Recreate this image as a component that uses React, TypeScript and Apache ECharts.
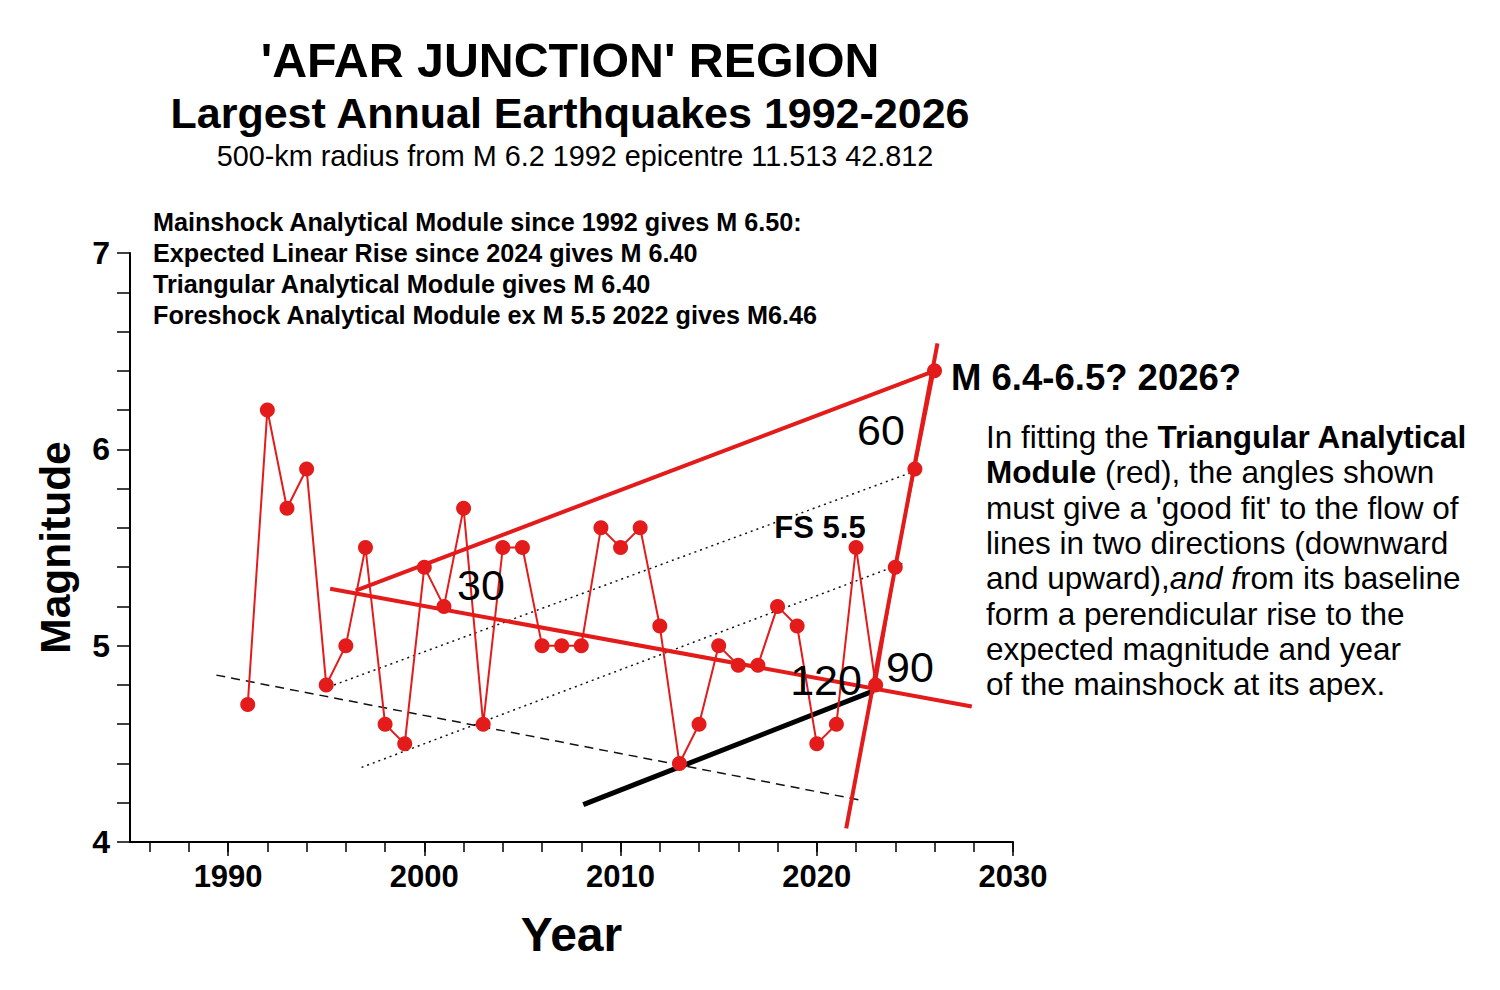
import React, { useEffect, useRef } from "react";
import * as echarts from "echarts";

const years = [1991, 1992, 1993, 1994, 1995, 1996, 1997, 1998, 1999, 2000, 2001, 2002, 2003, 2004, 2005, 2006, 2007, 2008, 2009, 2010, 2011, 2012, 2013, 2014, 2015, 2016, 2017, 2018, 2019, 2020, 2021, 2022, 2023, 2024, 2025, 2026];
const magnitudes = [4.7, 6.2, 5.7, 5.9, 4.8, 5.0, 5.5, 4.6, 4.5, 5.4, 5.2, 5.7, 4.6, 5.5, 5.5, 5.0, 5.0, 5.0, 5.6, 5.5, 5.6, 5.1, 4.4, 4.6, 5.0, 4.9, 4.9, 5.2, 5.1, 4.5, 4.6, 5.5, 4.8, 5.4, 5.9, 6.4];

// Triangular Analytical Module lines (red)
const upperLine = [[1996.5, 5.28], [2026.0, 6.4]];
const baseLine = [[1995.2, 5.29], [2027.9, 4.69]];
const riseLine = [[2021.5, 4.07], [2026.15, 6.54]];
// black lines
const linearRise = [[2008.1, 4.19], [2022.9, 4.77]];
const dashedLine = [[1989.4, 4.85], [2022.4, 4.21]];
const dottedLine1 = [[1995.4, 4.8], [2025.3, 5.9]];
const dottedLine2 = [[1996.8, 4.38], [2024.4, 5.42]];

const xMajorTicks = [1990, 2000, 2010, 2020, 2030];
const xMinorTicks = [1986, 1988, 1990, 1992, 1994, 1996, 1998, 2000, 2002, 2004, 2006, 2008, 2010, 2012, 2014, 2016, 2018, 2020, 2022, 2024, 2026, 2028, 2030];
const yTicks = [4, 4.2, 4.4, 4.6, 4.8, 5, 5.2, 5.4, 5.6, 5.8, 6, 6.2, 6.4, 6.6, 6.8, 7];
const yLabels = [4, 5, 6, 7];

const RED = "#e31b1b";
const FONT = "'Liberation Sans', Arial, Helvetica, sans-serif";

export default function App() {
  const ref = useRef<HTMLDivElement>(null);
  useEffect(() => {
    if (!ref.current) return;
    const chart = echarts.init(ref.current, undefined, { renderer: "svg" });
    const data = years.map((y, i) => [y, magnitudes[i]]);
    const lineSeries = (d: number[][], color: string, width: number, type: any = "solid") => ({
      type: "line",
      data: d,
      symbol: "none",
      silent: true,
      lineStyle: { color, width, type },
      z: 3,
    });
    const angleText = (text: string, x: number, y: number) => ({
      type: "text",
      x,
      y,
      z: 10,
      style: { text, fontSize: 43, fontFamily: FONT, fill: "#000", textAlign: "center", textVerticalAlign: "middle" },
    });
    chart.setOption({
      animation: false,
      backgroundColor: "#ffffff",
      grid: { left: 130, top: 253, width: 883, height: 589 },
      xAxis: [
        {
          type: "value",
          min: 1985,
          max: 2030,
          splitLine: { show: false },
          axisLine: { show: true, onZero: false, lineStyle: { color: "#000", width: 2 } },
          axisTick: { show: true, customValues: xMajorTicks, length: 14, lineStyle: { color: "#000", width: 1.5 } },
          axisLabel: {
            customValues: xMajorTicks,
            formatter: (v: number) => String(v),
            margin: 19,
            color: "#000",
            fontSize: 31,
            fontWeight: "bold",
            fontFamily: FONT,
          },
          name: "Year",
          nameLocation: "middle",
          nameGap: 68,
          nameTextStyle: { fontSize: 48, fontWeight: "bold", color: "#000", fontFamily: FONT },
        },
        {
          type: "value",
          min: 1985,
          max: 2030,
          position: "bottom",
          splitLine: { show: false },
          axisLine: { show: false, onZero: false },
          axisTick: { show: true, customValues: xMinorTicks, length: 10, lineStyle: { color: "#000", width: 1.5 } },
          axisLabel: { show: false },
        },
      ],
      yAxis: {
        type: "value",
        min: 4,
        max: 7,
        splitLine: { show: false },
        axisLine: { show: true, onZero: false, lineStyle: { color: "#000", width: 2 } },
        axisTick: { show: true, customValues: yTicks, length: 13, lineStyle: { color: "#000", width: 1.5 } },
        axisLabel: {
          customValues: yLabels,
          formatter: (v: number) => String(v),
          margin: 20,
          color: "#000",
          fontSize: 32,
          fontWeight: "bold",
          fontFamily: FONT,
        },
        name: "Magnitude",
        nameLocation: "middle",
        nameGap: 53,
        nameRotate: 90,
        nameTextStyle: { fontSize: 42.5, fontWeight: "bold", color: "#000", fontFamily: FONT },
      },
      series: [
        lineSeries(dashedLine, "#111", 1.5, [9, 6]),
        lineSeries(dottedLine1, "#111", 1.5, [2, 4]),
        lineSeries(dottedLine2, "#111", 1.5, [2, 4]),
        lineSeries(linearRise, "#000", 5),
        {
          type: "line",
          data,
          symbol: "circle",
          symbolSize: 15,
          itemStyle: { color: RED },
          lineStyle: { color: RED, width: 2 },
          z: 4,
        },
        lineSeries(upperLine, RED, 4),
        lineSeries(baseLine, RED, 4),
        lineSeries(riseLine, RED, 4),
      ],
      graphic: [
        {
          type: "text",
          x: 570,
          y: 60,
          style: { text: "'AFAR JUNCTION' REGION", fontSize: 48.3, fontWeight: "bold", fontFamily: FONT, fill: "#000", textAlign: "center", textVerticalAlign: "middle" },
        },
        {
          type: "text",
          x: 570,
          y: 113,
          style: { text: "Largest Annual Earthquakes 1992-2026", fontSize: 43, fontWeight: "bold", fontFamily: FONT, fill: "#000", textAlign: "center", textVerticalAlign: "middle" },
        },
        {
          type: "text",
          x: 575,
          y: 156,
          style: { text: "500-km radius from M 6.2 1992 epicentre 11.513 42.812", fontSize: 28.8, fontFamily: FONT, fill: "#000", textAlign: "center", textVerticalAlign: "middle" },
        },
        {
          type: "text",
          x: 153,
          y: 206.5,
          style: {
            text: "Mainshock Analytical Module since 1992 gives M 6.50:\nExpected Linear Rise since 2024 gives M 6.40\nTriangular Analytical Module gives M 6.40\nForeshock Analytical Module ex M 5.5 2022 gives M6.46",
            fontSize: 25.2,
            lineHeight: 31,
            fontWeight: "bold",
            fontFamily: FONT,
            fill: "#000",
            textAlign: "left",
            textVerticalAlign: "top",
          },
        },
        {
          type: "text",
          x: 951,
          y: 377,
          style: { text: "M 6.4-6.5? 2026?", fontSize: 36.5, fontWeight: "bold", fontFamily: FONT, fill: "#000", textAlign: "left", textVerticalAlign: "middle" },
        },
        {
          type: "text",
          x: 986,
          y: 419.5,
          style: {
            text:
              "In fitting the {b|Triangular Analytical}\n{b|Module} (red), the angles shown\nmust give a 'good fit' to the flow of\nlines in two directions (downward\nand upward),{i|and f}rom its baseline\nform a perendicular rise to the\nexpected magnitude and year\nof the mainshock at its apex.",
            fontSize: 31.5,
            lineHeight: 35.3,
            fontFamily: FONT,
            fill: "#000",
            textAlign: "left",
            textVerticalAlign: "top",
            rich: {
              b: { fontSize: 31.5, lineHeight: 35.3, fontWeight: "bold", fontFamily: FONT, fill: "#000" },
              i: { fontSize: 31.5, lineHeight: 35.3, fontStyle: "italic", fontFamily: FONT, fill: "#000" },
            },
          },
        },
        angleText("30", 481, 585),
        angleText("60", 881, 430),
        angleText("120", 826, 680),
        angleText("90", 910, 667),
        { type: "text", x: 820, y: 527, z: 10, style: { text: "FS 5.5", fontSize: 31, fontWeight: "bold", fontFamily: FONT, fill: "#000", textAlign: "center", textVerticalAlign: "middle" } },
      ],
    });
    return () => chart.dispose();
  }, []);
  return <div ref={ref} style={{ position: "absolute", left: 0, top: 0, width: 1500, height: 990, background: "#fff" }} />;
}
